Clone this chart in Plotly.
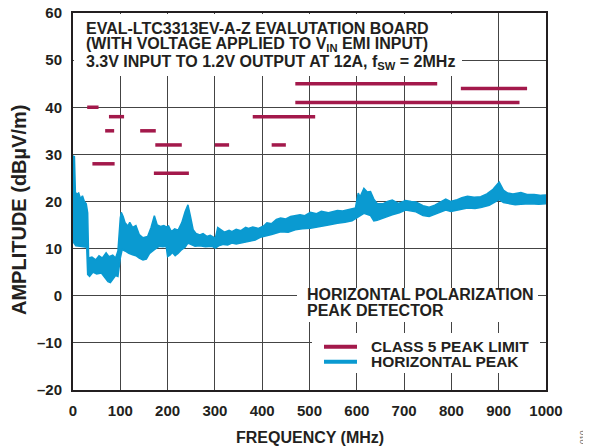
import plotly.graph_objects as go

# ---------------- data ----------------
# Upper and lower envelope of the measured horizontal-peak trace (MHz, dBuV/m)
peak_upper_freq = [0, 3, 5, 8, 12, 16, 20, 24, 28, 31, 33, 40, 48, 55, 62, 70, 76, 84, 90, 95,
                   100, 102, 106, 110, 116, 120, 126, 133, 140, 148, 158, 165, 172, 178, 185,
                   192, 197, 202, 208, 215, 222, 230, 237, 243, 248, 254, 260, 268, 275, 283,
                   290, 296, 301, 306, 312, 320, 330, 336, 345, 355, 365, 371, 380, 392, 403,
                   410, 420, 430, 439, 450, 460, 470, 480, 490, 502, 515, 525, 540, 559, 570,
                   585, 597, 603, 607, 615, 622, 629, 636, 643, 655, 665, 675, 688, 703, 715,
                   725, 740, 753, 765, 778, 788, 798, 810, 822, 834, 848, 862, 875, 888, 901,
                   910, 919, 930, 947, 960, 975, 990, 1000]
peak_upper_amp = [29.7, 29.5, 22.0, 21.5, 21.8, 20.6, 21.2, 20.0, 19.5, 17.6, 8.0, 8.2, 7.6, 8.5,
                  8.0, 9.1, 8.3, 8.6, 8.0, 9.5, 16.5, 17.7, 16.8, 15.5, 14.8, 15.6, 14.5, 14.9,
                  13.0, 12.3, 12.6, 14.5, 17.0, 15.0, 14.7, 14.9, 14.6, 14.8, 13.6, 14.2, 13.9,
                  15.5, 17.8, 19.3, 17.0, 14.0, 13.2, 12.9, 13.2, 12.6, 12.8, 12.4, 12.2, 14.5,
                  14.0, 13.5, 13.9, 13.6, 14.1, 13.8, 14.5, 14.3, 14.6, 14.3, 14.8, 15.5, 15.3,
                  16.2, 16.5, 16.3, 16.8, 17.0, 17.2, 17.0, 17.7, 17.4, 17.9, 17.6, 18.1, 18.0,
                  18.3, 18.6, 21.8, 21.0, 22.8, 22.0, 22.1, 20.5, 19.6, 19.5, 20.0, 20.3, 19.6,
                  20.2, 20.0, 19.9, 19.1, 18.8, 19.2, 20.0, 20.5, 20.0, 20.3, 20.8, 21.1, 20.9,
                  21.0, 21.6, 22.6, 24.1, 22.4, 21.8, 21.6, 21.9, 21.5, 21.5, 21.3, 21.4]
peak_lower_freq = [0, 3, 6, 15, 25, 29, 31, 35, 42, 50, 60, 68, 74, 79, 85, 90, 95, 100, 104,
                   110, 118, 126, 133, 140, 148, 155, 162, 172, 182, 190, 197, 200, 205, 210,
                   216, 222, 230, 237, 243, 250, 258, 268, 280, 294, 301, 308, 318, 327, 336,
                   345, 355, 371, 385, 396, 405, 420, 439, 455, 470, 485, 502, 520, 540, 559,
                   575, 590, 597, 607, 615, 629, 636, 643, 655, 675, 690, 703, 725, 740, 753,
                   770, 788, 799, 815, 834, 850, 862, 880, 901, 910, 919, 935, 947, 965, 985, 1000]
peak_lower_amp = [11.5, 11.0, 10.6, 10.5, 10.4, 10.3, 4.5, 4.1, 5.0, 4.6, 4.8, 3.8, 3.0, 2.8,
                  3.5, 4.3, 4.1, 8.0, 9.8, 9.5, 9.0, 8.7, 8.5, 8.0, 7.6, 7.8, 9.0, 9.8, 10.5,
                  10.4, 10.5, 8.3, 8.6, 9.2, 8.5, 9.0, 9.8, 10.3, 11.2, 10.8, 10.5, 10.6, 10.4,
                  10.5, 10.1, 10.6, 10.9, 10.8, 11.2, 11.0, 11.3, 11.5, 11.8, 12.4, 12.6, 13.0,
                  13.6, 13.5, 14.0, 14.2, 14.3, 14.6, 15.0, 15.4, 15.6, 15.9, 16.5, 17.0, 17.5,
                  17.0, 15.9, 16.0, 16.4, 17.2, 17.6, 18.2, 17.8, 17.0, 16.8, 17.4, 18.2, 17.9,
                  18.2, 18.6, 18.5, 18.7, 19.2, 20.4, 19.8, 19.6, 19.3, 19.4, 19.5, 19.4, 19.5]

# Class 5 peak limit bands
limit_start = [30, 41, 68, 76, 142, 171, 174, 300, 380, 420, 470, 470, 820]
limit_stop = [54, 88, 87, 108, 175, 245, 230, 330, 512, 450, 770, 944, 960]
limit_level = [40, 28, 35, 38, 35, 26, 32, 32, 38, 32, 45, 41, 44]

x_ticks = [0, 100, 200, 300, 400, 500, 600, 700, 800, 900, 1000]
y_ticks = [-20, -10, 0, 10, 20, 30, 40, 50, 60]

# ---------------- styling ----------------
BLUE = "#0a9ad1"
RED = "#a3194b"
TXT = "#231f20"
GRID = "#444444"
FONT = "Liberation Sans, Arial, sans-serif"

fig = go.Figure()

# measured trace as a filled band between envelopes
band_x = peak_upper_freq + peak_lower_freq[::-1]
band_y = peak_upper_amp + peak_lower_amp[::-1]
fig.add_trace(go.Scatter(x=band_x, y=band_y, mode="lines", fill="toself",
                         fillcolor=BLUE, line=dict(color=BLUE, width=1.5),
                         name="HORIZONTAL PEAK", showlegend=False, hoverinfo="skip"))

# limit segments
lx, ly = [], []
for a, b, v in zip(limit_start, limit_stop, limit_level):
    lx += [a, b, None]
    ly += [v, v, None]
fig.add_trace(go.Scatter(x=lx, y=ly, mode="lines", line=dict(color=RED, width=3.5),
                         name="CLASS 5 PEAK LIMIT", showlegend=False))

# page body has an 8px margin; figure is sized so that the plot lands where the reference has it
W, H = 583, 440
L, R, T, B = 65, 45, 5, 58
pw, ph = W - L - R, H - T - B


def px(sx):  # screen x -> paper
    return (sx - 8 - L) / pw


def py(sy):  # screen y -> paper
    return (H - B - (sy - 8)) / ph


shapes = []
# white boxes hiding the grid behind text blocks
for x0, x1, y0, y1 in [(74, 462, 14, 76), (297, 538, 288, 322), (312, 540, 333, 373)]:
    shapes.append(dict(type="rect", xref="paper", yref="paper", x0=px(x0), x1=px(x1),
                       y0=py(y1), y1=py(y0), fillcolor="white", line=dict(width=0),
                       layer="above"))
# legend samples
for yy, col in [(346.7, RED), (361.7, BLUE)]:
    shapes.append(dict(type="line", xref="paper", yref="paper", x0=px(324), x1=px(357),
                       y0=py(yy), y1=py(yy), line=dict(color=col, width=4), layer="above"))

ann = []
title_lines = [
    (29, "<b>EVAL-LTC3313EV-A-Z EVALUTATION BOARD</b>"),
    (44.5, "<b>(WITH VOLTAGE APPLIED TO V<sub>IN</sub> EMI INPUT)</b>"),
    (63, "<b>3.3V INPUT TO 1.2V OUTPUT AT 12A, f<sub>SW</sub> = 2MHz</b>"),
]
for yy, t in title_lines:
    ann.append(dict(text=t, x=px(84), y=py(yy), xref="paper", yref="paper",
                    xanchor="left", yanchor="middle", showarrow=False,
                    font=dict(size=16, color=TXT, family=FONT)))
for yy, t in [(294.5, "<b>HORIZONTAL POLARIZATION</b>"), (310, "<b>PEAK DETECTOR</b>")]:
    ann.append(dict(text=t, x=px(305), y=py(yy), xref="paper", yref="paper",
                    xanchor="left", yanchor="middle", showarrow=False,
                    font=dict(size=16, color=TXT, family=FONT)))
for yy, t in [(346.7, "<b>CLASS 5 PEAK LIMIT</b>"), (361.7, "<b>HORIZONTAL PEAK</b>")]:
    ann.append(dict(text=t, x=px(369), y=py(yy), xref="paper", yref="paper",
                    xanchor="left", yanchor="middle", showarrow=False,
                    font=dict(size=15.5, color=TXT, family=FONT)))
# axis titles
ann.append(dict(text="<b>FREQUENCY (MHz)</b>", x=px(310), y=py(437), xref="paper", yref="paper",
                xanchor="center", yanchor="middle", showarrow=False,
                font=dict(size=16, color=TXT, family=FONT)))
ann.append(dict(text="<b>AMPLITUDE (dBµV/m)</b>", x=px(19), y=py(210), xref="paper", yref="paper",
                xanchor="center", yanchor="middle", showarrow=False, textangle=-90,
                font=dict(size=20, color=TXT, family=FONT)))
ann.append(dict(text="010", x=px(582), y=py(437), xref="paper", yref="paper",
                xanchor="center", yanchor="middle", showarrow=False, textangle=-90,
                font=dict(size=8, color="#555", family=FONT)))

fig.update_layout(
    width=W, height=H,
    margin=dict(l=L, r=R, t=T, b=B, autoexpand=False),
    paper_bgcolor="white", plot_bgcolor="white",
    font=dict(family=FONT, color=TXT),
    shapes=shapes, annotations=ann,
    showlegend=False,
)
fig.update_xaxes(range=[0, 1000], tickvals=x_ticks, ticktext=[f"<b>{v}</b>" for v in x_ticks],
                 showgrid=True, gridcolor=GRID, gridwidth=1, zeroline=False,
                 showline=True, linecolor=TXT, linewidth=2, mirror=True,
                 ticks="outside", ticklen=6, tickcolor="rgba(0,0,0,0)",
                 tickfont=dict(size=15, color=TXT, family=FONT),
                 ticklabeloverflow="allow", automargin=False)
fig.update_yaxes(range=[-20, 60], tickvals=y_ticks,
                 ticktext=[f"<b>{v}</b>" if v >= 0 else f"<b>\u2013{abs(v)}</b>" for v in y_ticks],
                 showgrid=True, gridcolor=GRID, gridwidth=1, zeroline=False,
                 showline=True, linecolor=TXT, linewidth=2, mirror=True,
                 ticks="outside", ticklen=6, tickcolor="rgba(0,0,0,0)",
                 tickfont=dict(size=15, color=TXT, family=FONT),
                 ticklabeloverflow="allow", automargin=False)

fig.write_html("out.html")
